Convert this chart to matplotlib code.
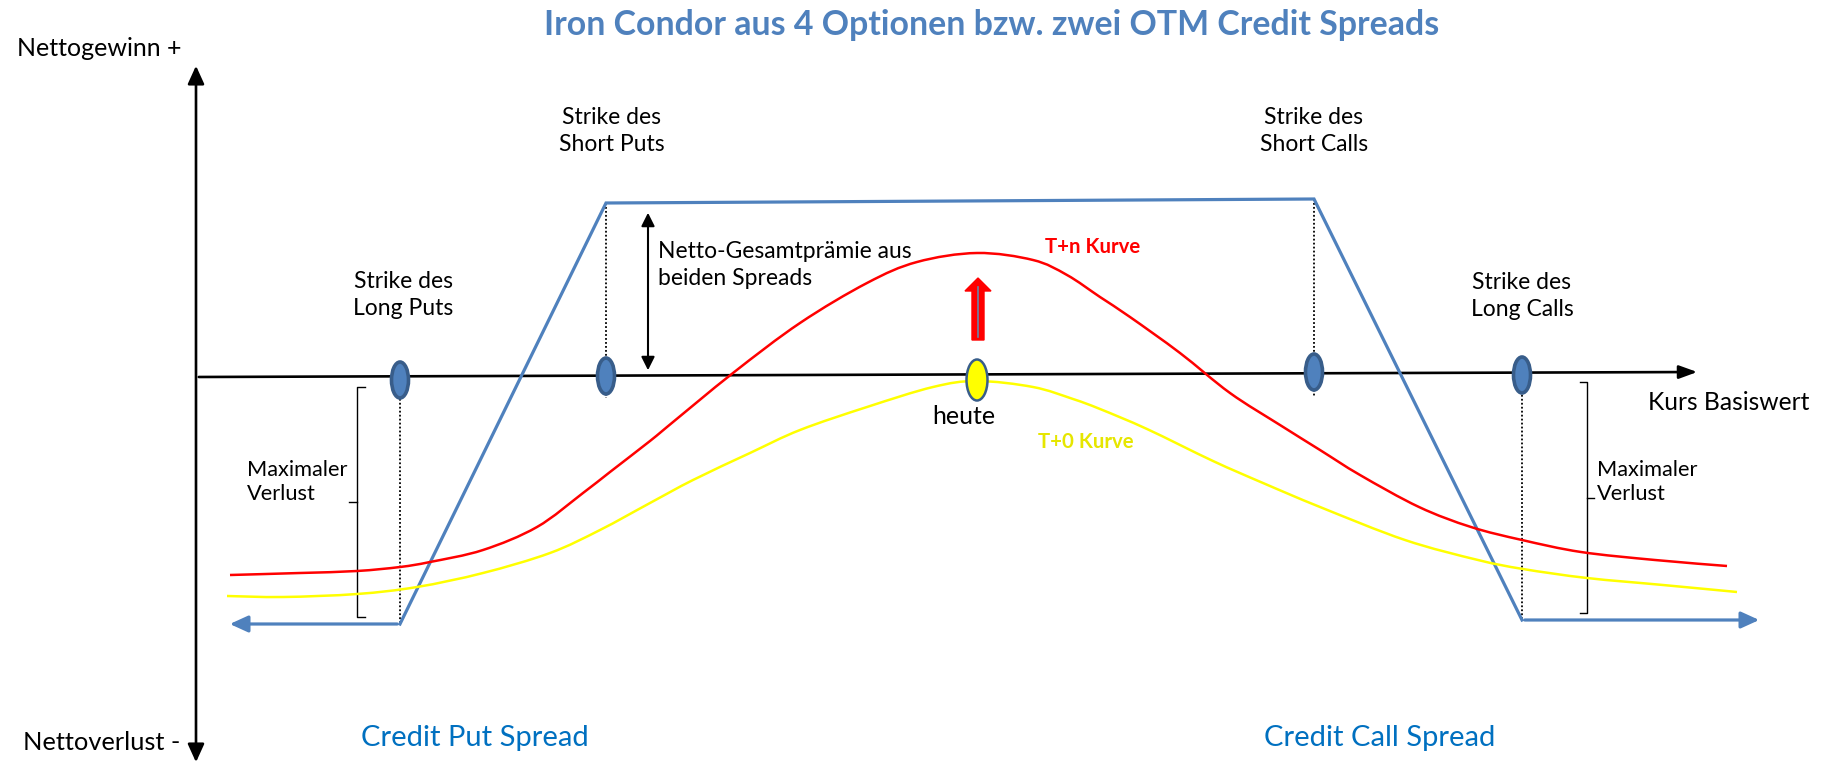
import matplotlib
matplotlib.use("Agg")
import matplotlib.pyplot as plt
from matplotlib.patches import Ellipse, FancyArrow, FancyArrowPatch, PathPatch
from matplotlib.path import Path
import numpy as np

plt.rcParams["font.family"] = ["Lato", "DejaVu Sans"]

# Kurs (x) and Nettogewinn/-verlust (y) in arbitrary chart units
strikes = [400, 606, 1314, 1522]          # Long Put, Short Put, Short Call, Long Call
strike_marker_y = [-5, -1, 3, 0]
today = 977
today_marker_y = -5

payoff_x = [227, 400, 606, 1314, 1522, 1762]
payoff_y = [-249, -249, 172, 176, -245, -245]

tn_x = [230, 300, 357, 400, 430, 483, 537, 583, 610, 650, 667, 733, 800, 867, 917,
        977, 1033, 1067, 1100, 1130, 1180, 1230, 1280, 1320, 1360, 1419, 1471, 1522,
        1581, 1655, 1727]
tn_y = [-200, -198, -196, -192, -187, -175, -152, -118, -97, -66, -52, 2, 52, 92, 113,
        122, 115, 100, 78, 58, 22, -18, -50, -75, -100, -132, -152, -165,
        -177, -185, -191]

t0_x = [227, 283, 357, 417, 483, 550, 600, 650, 693, 750, 800, 867, 933, 977, 1033,
        1073, 1100, 1147, 1213, 1263, 1320, 1405, 1478, 1523, 1587, 1663, 1737]
t0_y = [-221, -222, -219, -212, -198, -178, -155, -128, -105, -78, -55, -32, -12, -6, -12,
        -24, -34, -54, -86, -108, -132, -165, -185, -194, -203, -210, -217]

axis_x = [196, 1700]
axis_y = [-2, 3]
y_axis_range = [-390, 312]

premium_arrow = [2, 165]
loss_left = (357, -12, -242)
loss_right = (1587, -7, -238)

BLUE = "#4F81BD"
DARK_BLUE = "#385D8A"
CREDIT_BLUE = "#0070C0"


def smooth_path(xs, ys):
    # bezier path through the read points (catmull-rom style control points)
    p = np.column_stack([xs, ys]).astype(float)
    verts = [p[0]]
    codes = [Path.MOVETO]
    for i in range(len(p) - 1):
        p0 = p[i - 1] if i > 0 else p[i]
        p3 = p[i + 2] if i + 2 < len(p) else p[i + 1]
        c1 = p[i] + (p[i + 1] - p0) / 6.0
        c2 = p[i + 1] - (p3 - p[i]) / 6.0
        verts += [c1, c2, p[i + 1]]
        codes += [Path.CURVE4] * 3
    return Path(verts, codes)


fig = plt.figure(figsize=(18.27, 7.65), dpi=100)
ax = fig.add_axes([0, 0, 1, 1])
ax.set_xlim(0, 1827)
ax.set_ylim(-390, 375)
ax.axis("off")

# axes
ax.add_patch(FancyArrowPatch((axis_x[0], axis_y[0]), (axis_x[1], axis_y[1]),
                             arrowstyle="-|>,head_length=11,head_width=4",
                             mutation_scale=1, color="black", lw=1.9, zorder=3))
ax.add_patch(FancyArrowPatch((axis_x[0], y_axis_range[0]), (axis_x[0], y_axis_range[1]),
                             arrowstyle="<|-|>,head_length=11,head_width=5",
                             mutation_scale=1, color="black", lw=1.9, zorder=3))

# payoff at expiry
ax.plot(payoff_x[1:-1], payoff_y[1:-1], color=BLUE, lw=2.3, solid_joinstyle="miter", zorder=4)
for i0, i1 in [(1, 0), (-2, -1)]:
    ax.add_patch(FancyArrowPatch((payoff_x[i0], payoff_y[i0]), (payoff_x[i1], payoff_y[i1]),
                                 arrowstyle="-|>,head_length=11,head_width=5",
                                 mutation_scale=1, color=BLUE, lw=2.3, zorder=4))

# T+n and T+0
ax.add_patch(PathPatch(smooth_path(tn_x, tn_y), facecolor="none", edgecolor="#FF0000",
                       lw=1.8, zorder=5))
ax.add_patch(PathPatch(smooth_path(t0_x, t0_y), facecolor="none", edgecolor="#FFFF00",
                       lw=1.8, zorder=5))

# dotted strike lines
dot = dict(color="black", lw=1.3, ls=(0, (1, 1.2)), zorder=2)
ax.plot([strikes[0]] * 2, [0, payoff_y[1]], **dot)
ax.plot([strikes[1]] * 2, [payoff_y[2], -23], **dot)
ax.plot([strikes[2]] * 2, [payoff_y[3], -21], **dot)
ax.plot([strikes[3]] * 2, [0, payoff_y[4]], **dot)

# strike markers
for sx, sy in zip(strikes, strike_marker_y):
    ax.add_patch(Ellipse((sx, sy), 17, 36, facecolor=BLUE, edgecolor=DARK_BLUE, lw=2.6, zorder=6))
ax.add_patch(Ellipse((today, today_marker_y), 21, 41, facecolor="#FFFF00", edgecolor=DARK_BLUE,
                     lw=1.8, zorder=6))

# red up arrow above "heute"
ax.add_patch(FancyArrow(today + 1, 35, 0, 62, width=12, head_width=26, head_length=13,
                        length_includes_head=True, facecolor="#FF0000", edgecolor="#FF0000",
                        lw=1, zorder=6))
ax.plot([today + 1, today + 1], [38, 88], color="#6B84A8", lw=1.2, zorder=7)

# premium double arrow
ax.add_patch(FancyArrowPatch((648, premium_arrow[0]), (648, premium_arrow[1]),
                             arrowstyle="<|-|>,head_length=8,head_width=4",
                             mutation_scale=1, color="black", lw=1.5, zorder=3))

# brackets for max loss
x, top, bot = loss_left
ax.plot([x + 8, x, x, x + 8], [top, top, bot, bot], color="black", lw=1.0)
ax.plot([x, x - 8], [(top + bot) / 2] * 2, color="black", lw=1.0)
x, top, bot = loss_right
ax.plot([x - 7, x, x, x - 7], [top, top, bot, bot], color="black", lw=1.0)
ax.plot([x, x + 7], [(top + bot) / 2] * 2, color="black", lw=1.0)

# texts
ax.text(992, 350, "Iron Condor aus 4 Optionen bzw. zwei OTM Credit Spreads", color=BLUE,
        fontsize=24.4, fontweight="bold", ha="center", va="center")
ax.text(17, 326, "Nettogewinn +", fontsize=18, va="center")
ax.text(23, -368, "Nettoverlust -", fontsize=18.3, va="center")
ax.text(1648, -27, "Kurs Basiswert", fontsize=17.7, va="center")

strike_labels = ["Strike des\nLong Puts", "Strike des\nShort Puts",
                 "Strike des\nShort Calls", "Strike des\nLong Calls"]
label_x = [403, 612, 1314, 1522]
label_y = [80, 244, 244, 79]
for lx, ly, s in zip(label_x, label_y, strike_labels):
    ax.text(lx, ly, s, fontsize=16.5, ha="center", va="center", linespacing=1.3)

ax.text(658, 110, "Netto-Gesamtprämie aus\nbeiden Spreads", fontsize=16.5, va="center",
        linespacing=1.3)
ax.text(964, -42, "heute", fontsize=18, ha="center", va="center")
ax.text(1045, 128, "T+n Kurve", color="#FF0000", fontsize=14.7, fontweight="bold", va="center")
ax.text(1038, -67, "T+0 Kurve", color="#E6E600", fontsize=14.7, fontweight="bold", va="center")
ax.text(247, -107, "Maximaler\nVerlust", fontsize=15.7, va="center", linespacing=1.3)
ax.text(1597, -107, "Maximaler\nVerlust", fontsize=15.7, va="center", linespacing=1.3)
ax.text(361, -363, "Credit Put Spread", color=CREDIT_BLUE, fontsize=21, va="center")
ax.text(1264, -363, "Credit Call Spread", color=CREDIT_BLUE, fontsize=21, va="center")

fig.savefig("out.png", dpi=100)
